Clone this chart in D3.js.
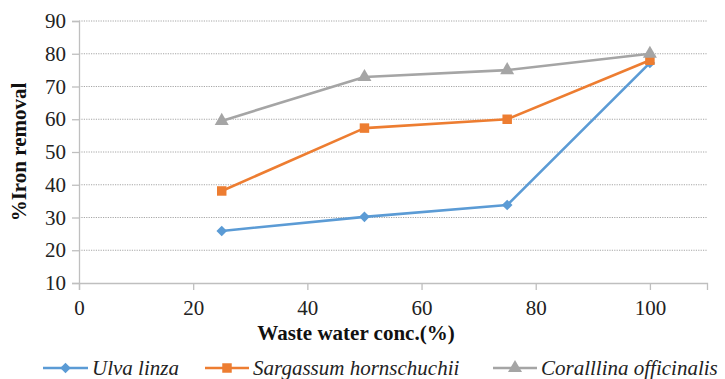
<!DOCTYPE html>
<html>
<head>
<meta charset="utf-8">
<script src="https://cdn.jsdelivr.net/npm/d3@7"></script>
</head>
<body style="margin:0">
<svg id="chart" width="725" height="379" font-family="Times New Roman, Liberation Serif, Tinos, serif"></svg>
<script>
// Waste water concentration (%) on the x axis
const concentrations = [25, 50, 75, 100];

// Iron removal (%) for each alga
const ulvaLinza = [25.9, 30.2, 33.8, 77.2];
const sargassumHornschuchii = [38.1, 57.3, 60.0, 78.0];
const corallinaOfficinalis = [59.5, 72.9, 75.0, 80.0];

const seriesNames = ["Ulva linza", "Sargassum hornschuchii", "Coralllina officinalis"];
const seriesColors = ["#5b9bd5", "#ed7d31", "#a5a5a5"];
const seriesShapes = ["diamond", "square", "triangle"];

const xTicks = [0, 20, 40, 60, 80, 100];
const yTicks = [10, 20, 30, 40, 50, 60, 70, 80, 90];

const xTitle = "Waste water conc.(%)";
const yTitle = "%Iron removal";

(function drawChart() {
  const series = [ulvaLinza, sargassumHornschuchii, corallinaOfficinalis].map((vals, i) => ({
    name: seriesNames[i],
    color: seriesColors[i],
    shape: seriesShapes[i],
    points: concentrations.map((c, j) => ({ x: c, y: vals[j] }))
  }));

  const svg = d3.select("#chart");
  const plotLeft = 79, plotRight = 707, plotTop = 21, plotBottom = 283;

  const x = d3.scaleLinear().domain([0, 110]).range([plotLeft, plotRight]);
  const y = d3.scaleLinear().domain([10, 90]).range([plotBottom, plotTop]);

  const axisColor = "#bfbfbf";
  const serif = "Times New Roman";

  // marker paths: diamond is a square turned 45°
  const markerPath = {
    diamond: d3.symbol().type(d3.symbolSquare).size(56)(),
    square: d3.symbol().type(d3.symbolSquare).size(90)(),
    triangle: d3.symbol().type(d3.symbolTriangle).size(85)()
  };
  const markerRotate = shape => (shape === "diamond" ? " rotate(45)" : "");

  // horizontal gridlines
  svg.append("g")
    .selectAll("line")
    .data(yTicks.filter(t => t > 10))
    .join("line")
    .attr("x1", plotLeft).attr("x2", plotRight)
    .attr("y1", d => y(d)).attr("y2", d => y(d))
    .attr("stroke", "#a6a6a6")
    .attr("stroke-width", 1)
    .attr("stroke-dasharray", "1.2,1.2");

  // y axis
  const yAxis = svg.append("g")
    .attr("transform", `translate(${plotLeft},0)`)
    .call(d3.axisLeft(y).tickValues(yTicks).tickSize(7).tickPadding(6).tickFormat(d3.format("d")));
  yAxis.attr("font-family", serif).attr("font-size", 21);
  yAxis.select(".domain").attr("stroke", axisColor).attr("stroke-width", 1.3);
  yAxis.selectAll(".tick line").attr("stroke", axisColor).attr("stroke-width", 1.3);
  yAxis.selectAll(".tick text")
    .attr("font-family", serif).attr("font-size", 21).attr("fill", "#222");

  // x axis
  const xAxis = svg.append("g")
    .attr("transform", `translate(0,${plotBottom})`)
    .call(d3.axisBottom(x).tickValues(xTicks).tickSize(7).tickPadding(10).tickFormat(d3.format("d")));
  xAxis.attr("font-family", serif).attr("font-size", 21);
  xAxis.select(".domain").attr("stroke", axisColor).attr("stroke-width", 1.3);
  xAxis.selectAll(".tick line").attr("stroke", axisColor).attr("stroke-width", 1.3);
  xAxis.selectAll(".tick text")
    .attr("font-family", serif).attr("font-size", 21).attr("fill", "#222");

  // axis titles
  svg.append("text")
    .attr("x", 356).attr("y", 340)
    .attr("text-anchor", "middle")
    .attr("font-family", serif).attr("font-size", 21).attr("font-weight", "bold")
    .attr("fill", "#111")
    .text(xTitle);

  svg.append("text")
    .attr("transform", `translate(26,${(plotTop + plotBottom) / 2}) rotate(-90)`)
    .attr("text-anchor", "middle")
    .attr("font-family", serif).attr("font-size", 21).attr("font-weight", "bold")
    .attr("fill", "#111")
    .text(yTitle);

  // lines and markers
  const line = d3.line().x(d => x(d.x)).y(d => y(d.y));

  const groups = svg.append("g")
    .selectAll("g")
    .data(series)
    .join("g");

  groups.append("path")
    .attr("d", d => line(d.points))
    .attr("fill", "none")
    .attr("stroke", d => d.color)
    .attr("stroke-width", 2.6)
    .attr("stroke-linejoin", "round");

  groups.each(function (s) {
    d3.select(this).selectAll("path.marker")
      .data(s.points)
      .join("path")
      .attr("class", "marker")
      .attr("transform", d => `translate(${x(d.x)},${y(d.y)})${markerRotate(s.shape)}`)
      .attr("d", markerPath[s.shape])
      .attr("fill", s.color);
  });

  // legend
  const legendY = 368;
  const legendItems = [
    { x0: 43, x1: 88, tx: 92 },
    { x0: 205, x1: 249, tx: 253 },
    { x0: 493, x1: 537, tx: 541 }
  ];

  const legend = svg.append("g")
    .selectAll("g")
    .data(series)
    .join("g");

  legend.append("line")
    .attr("x1", (d, i) => legendItems[i].x0)
    .attr("x2", (d, i) => legendItems[i].x1)
    .attr("y1", legendY).attr("y2", legendY)
    .attr("stroke", d => d.color)
    .attr("stroke-width", 2.6);

  legend.append("path")
    .attr("transform", (d, i) =>
      `translate(${(legendItems[i].x0 + legendItems[i].x1) / 2},${legendY})${markerRotate(d.shape)}`)
    .attr("d", d => markerPath[d.shape])
    .attr("fill", d => d.color);

  legend.append("text")
    .attr("x", (d, i) => legendItems[i].tx)
    .attr("y", legendY + 7)
    .attr("font-family", serif).attr("font-size", 21).attr("font-style", "italic")
    .attr("fill", "#222")
    .text(d => d.name);
})();
</script>
</body>
</html>
